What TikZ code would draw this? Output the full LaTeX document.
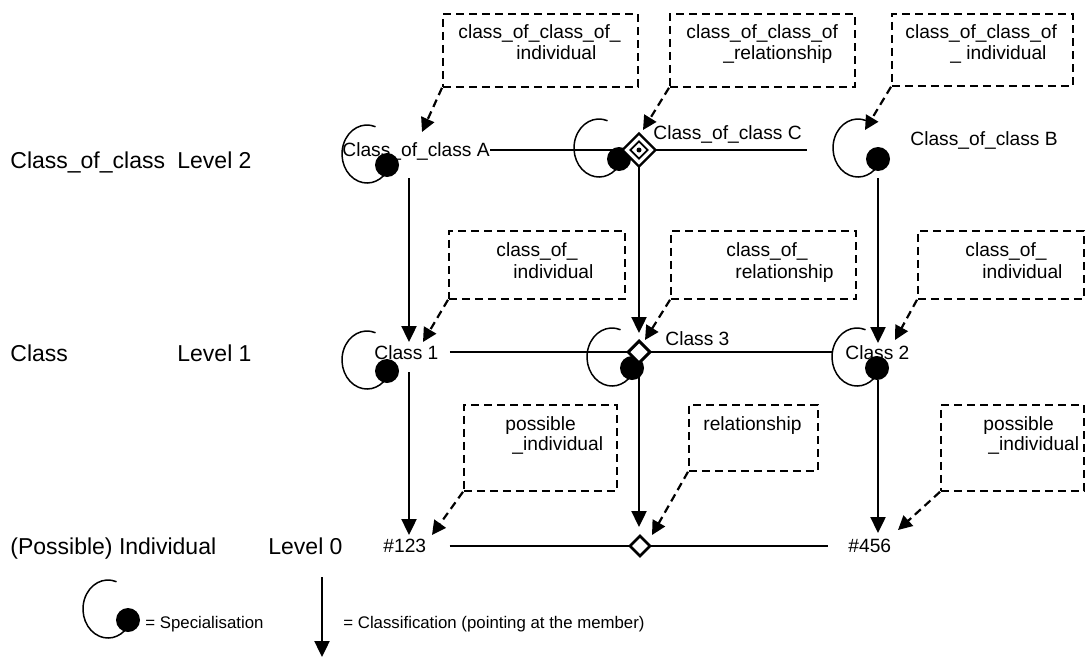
\documentclass[tikz,border=0pt]{standalone}
\usepackage{fontspec}
\setmainfont{Liberation Sans}
\usetikzlibrary{arrows.meta,shapes.geometric}

\tikzset{
  lvltext/.style={anchor=base west, inner sep=0pt, font=\fontsize{11.5}{13}\selectfont},
  clstext/.style={anchor=base west, inner sep=0pt, font=\fontsize{9.6}{11}\selectfont},
  notetext/.style={anchor=base west, inner sep=0pt, font=\fontsize{9.6}{11}\selectfont},
  legtext/.style={anchor=base west, inner sep=0pt, font=\fontsize{8.4}{10}\selectfont},
  notebox/.style={draw, line width=0.9pt, dash pattern=on 4pt off 2.5pt, anchor=north west, inner sep=0pt},
  tail/.style={line width=1.1pt, dash pattern=on 4pt off 2.5pt, -{Triangle[length=7pt,width=7pt]}},
  classify/.style={line width=1.2pt, -{Triangle[length=8pt,width=7.5pt]}},
  link/.style={line width=1.2pt},
  reldiamond/.style={diamond, draw, fill=white, line width=1.3pt, minimum size=10.5pt, inner sep=0pt},
  spec/.pic={
    \draw[line width=0.75pt] (-10pt,5.5pt) ++(70:12.5pt and 14.5pt)
      arc[start angle=70, end angle=331, x radius=12.5pt, y radius=14.5pt];
    \fill (0,0) circle (6pt);
  },
}

\begin{document}
\begin{tikzpicture}[x=0.5pt,y=-0.5pt]
  \useasboundingbox (0,0) rectangle (1085,658);

  % levels
  \node[lvltext] (cocname) at (10,168) {Class\_of\_class};
  \node[lvltext] (lvl2) at (177,168) {Level 2};
  \node[lvltext] (clsname) at (10,361) {Class};
  \node[lvltext] (lvl1) at (177,361) {Level 1};
  \node[lvltext] (indname) at (10,554) {(Possible) Individual};
  \node[lvltext] (lvl0) at (268,554) {Level 0};

  % specialisation loops
  \pic at (387,165) {spec};
  \pic at (619,159) {spec};
  \pic at (878,159) {spec};
  \pic at (387,371) {spec};
  \pic at (632,368) {spec};
  \pic at (877,368) {spec};

  % classes and individuals
  \node[clstext] (cocA) at (342,156) {Class\_of\_class A};
  \node[clstext] (cocC) at (653,140) {Class\_of\_class C};
  \node[clstext] (cocB) at (910,145) {Class\_of\_class B};
  \node[clstext] (cls1) at (374,359) {Class 1};
  \node[clstext] (cls3) at (665,345) {Class 3};
  \node[clstext] (cls2) at (845,359) {Class 2};
  \node[clstext] (i123) at (383,552) {\#123};
  \node[clstext] (i456) at (848,552) {\#456};

  \coordinate (dCpos) at (639,150);
  \coordinate (d3pos) at (639,352);
  \coordinate (d0pos) at (640,546);
  \coordinate (e2) at (807,150);
  \coordinate (e1) at (832,352);
  \coordinate (e0) at (828,546);

  % relationship lines
  \draw[link] (cocA.east |- dCpos) -- (e2);
  \draw[link] ([xshift=5.5pt]cls1.east |- d3pos) -- (e1);
  \draw[link] ([xshift=11.5pt]i123.east |- d0pos) -- (e0);

  % classification
  \coordinate (vA1) at (409,178); \coordinate (vA2) at (409,342);
  \coordinate (vC2) at (639,333);
  \coordinate (vB1) at (878,178); \coordinate (vB2) at (878,343);
  \coordinate (v11) at (409,372); \coordinate (v12) at (409,535);
  \coordinate (v32) at (639,527);
  \coordinate (v21) at (878,380); \coordinate (v22) at (878,533);
  \draw[classify] (vA1) -- (vA2);
  \draw[classify] (dCpos) -- (vC2);
  \draw[classify] (vB1) -- (vB2);
  \draw[classify] (v11) -- (v12);
  \draw[classify] (d3pos) -- (v32);
  \draw[classify] (v21) -- (v22);

  % relationship diamonds
  \node[reldiamond, minimum size=17pt, line width=1.2pt] (dC) at (dCpos) {};
  \node[diamond, draw, line width=0.9pt, minimum size=9pt, inner sep=0pt] (dCin) at (dC) {};
  \node[circle, fill, minimum size=2.5pt, inner sep=0pt] (dCdot) at (dC) {};
  \node[reldiamond, minimum size=11.5pt, line width=1.5pt] (d3) at (d3pos) {};
  \node[reldiamond] (d0) at (d0pos) {};

  % notes
  \node[notebox, minimum width=97.5pt, minimum height=36.5pt] (n1) at (442,13) {};
  \node[notebox, minimum width=92.5pt, minimum height=36.5pt] (n2) at (669,13) {};
  \node[notebox, minimum width=90.5pt, minimum height=36pt] (n3) at (891,13) {};
  \node[notebox, minimum width=88pt, minimum height=34pt] (n4) at (448,230) {};
  \node[notebox, minimum width=92.5pt, minimum height=34pt] (n5) at (670,230) {};
  \node[notebox, minimum width=83pt, minimum height=34pt] (n6) at (917,230) {};
  \node[notebox, minimum width=76.5pt, minimum height=43pt] (n7) at (463,404) {};
  \node[notebox, minimum width=64.5pt, minimum height=33pt] (n8) at (688,404) {};
  \node[notebox, minimum width=71.5pt, minimum height=43pt] (n9) at (940,404) {};

  \node[notetext] (n1a) at (458,39) {class\_of\_class\_of\_};
  \node[notetext] (n1b) at (516,60) {individual};
  \node[notetext] (n2a) at (686,39) {class\_of\_class\_of};
  \node[notetext] (n2b) at (723,60) {\_relationship};
  \node[notetext] (n3a) at (905,39) {class\_of\_class\_of};
  \node[notetext] (n3b) at (950,60) {\_ individual};
  \node[notetext] (n4a) at (496,256) {class\_of\_};
  \node[notetext] (n4b) at (513,278) {individual};
  \node[notetext] (n5a) at (726,256) {class\_of\_};
  \node[notetext] (n5b) at (735,278) {relationship};
  \node[notetext] (n6a) at (965,256) {class\_of\_};
  \node[notetext] (n6b) at (982,278) {individual};
  \node[notetext] (n7a) at (505,430) {possible};
  \node[notetext] (n7b) at (512,450) {\_individual};
  \node[notetext] (n8a) at (703,430) {relationship};
  \node[notetext] (n9a) at (983,430) {possible};
  \node[notetext] (n9b) at (988,450) {\_individual};

  \coordinate (t1) at (422,132);
  \coordinate (t2) at (643,130);
  \coordinate (t3) at (865,130);
  \coordinate (t4) at (423,342);
  \coordinate (t5) at (645,340);
  \coordinate (t6) at (895,340);
  \coordinate (t7) at (432,535);
  \coordinate (t8) at (652,535);
  \coordinate (t9) at (898,530);
  \draw[tail] (n1.south west) -- (t1);
  \draw[tail] (n2.south west) -- (t2);
  \draw[tail] (n3.south west) -- (t3);
  \draw[tail] (n4.south west) -- (t4);
  \draw[tail] (n5.south west) -- (t5);
  \draw[tail] (n6.south west) -- (t6);
  \draw[tail] (n7.south west) -- (t7);
  \draw[tail] (n8.south west) -- (t8);
  \draw[tail] (n9.south west) -- (t9);

  % legend
  \pic at (128,620) {spec};
  \node[legtext] (legspec) at (145,628) {= Specialisation};
  \coordinate (legtop) at (322,577);
  \coordinate (legbot) at (322,657);
  \draw[classify] (legtop) -- (legbot);
  \node[legtext] (legcls) at (343,628) {= Classification (pointing at the member)};
\end{tikzpicture}
\end{document}
